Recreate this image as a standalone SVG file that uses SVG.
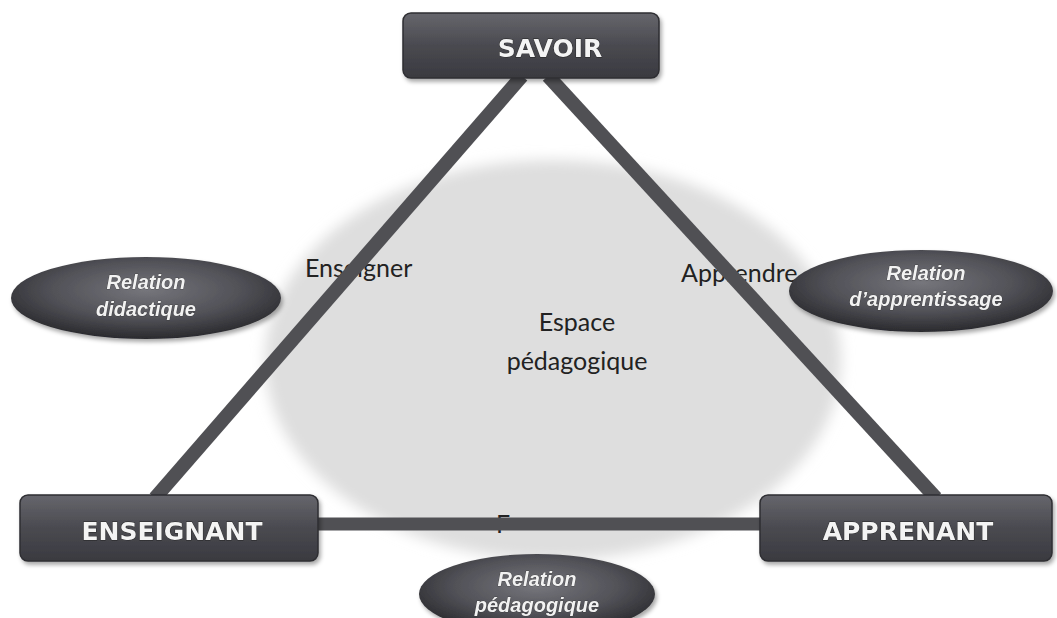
<svg xmlns="http://www.w3.org/2000/svg" width="1057" height="618" viewBox="0 0 1057 618">
<defs>
<style>
.box{fill:url(#boxg);stroke:#2e2e32;stroke-width:1.5}
.btxt{font-family:"DejaVu Sans",sans-serif;font-weight:bold;fill:#f4f4f4;stroke:#222;stroke-width:0.8;paint-order:stroke;text-anchor:middle}
.ell{fill:url(#ellg)}
.etxt{font-family:"Liberation Sans",Arial,sans-serif;font-weight:bold;font-style:italic;font-size:20px;fill:#f2f2f2;stroke:#333;stroke-width:0.6;paint-order:stroke;text-anchor:middle}
.ltxt{font-family:"Lato","DejaVu Sans",sans-serif;fill:#222;font-size:25px}
.edge{stroke:#505054;stroke-linecap:butt;fill:none}
</style>
<linearGradient id="boxg" x1="0" y1="0" x2="0" y2="1">
<stop offset="0" stop-color="#66666c"/>
<stop offset="0.5" stop-color="#4a4a50"/>
<stop offset="1" stop-color="#3a3a40"/>
</linearGradient>
<radialGradient id="ellg" cx="0.5" cy="0.4" r="0.6">
<stop offset="0" stop-color="#76767c"/>
<stop offset="0.6" stop-color="#505056"/>
<stop offset="1" stop-color="#2a2a2e"/>
</radialGradient>
<filter id="soft" x="-20%" y="-20%" width="140%" height="140%">
<feGaussianBlur stdDeviation="7"/>
</filter>
<filter id="shadow" x="-10%" y="-20%" width="130%" height="160%">
<feDropShadow dx="2" dy="3" stdDeviation="2" flood-color="#000" flood-opacity="0.35"/>
</filter>
</defs>
<rect width="1057" height="618" fill="#ffffff"/>

<g id="espace">
<ellipse cx="553" cy="360" rx="288" ry="200" fill="#dedede" filter="url(#soft)"/>
<text class="ltxt" x="577" y="331" text-anchor="middle">Espace</text>
<text class="ltxt" x="577" y="370" text-anchor="middle">pédagogique</text>
</g>

<g id="labels">
<text class="ltxt" x="305" y="277" font-size="22">Enseigner</text>
<text class="ltxt" x="681" y="282" font-size="22">Apprendre</text>
<text class="ltxt" x="496" y="533" font-size="23">F</text>
</g>

<g id="connectors">
<line class="edge" x1="522" y1="76" x2="155" y2="498" stroke-width="14"/>
<line class="edge" x1="548" y1="76" x2="936" y2="498" stroke-width="14"/>
<line class="edge" x1="316" y1="524" x2="762" y2="524" stroke-width="13"/>
</g>

<g id="savoir" filter="url(#shadow)">
<rect class="box" x="403" y="13" width="256" height="65" rx="8"/>
<text class="btxt" x="550" y="57" font-size="25">SAVOIR</text>
</g>
<g id="enseignant" filter="url(#shadow)">
<rect class="box" x="20" y="495" width="298" height="66" rx="8"/>
<text class="btxt" x="172" y="540" font-size="25">ENSEIGNANT</text>
</g>
<g id="apprenant" filter="url(#shadow)">
<rect class="box" x="760" y="495" width="292" height="66" rx="8"/>
<text class="btxt" x="908" y="540" font-size="25">APPRENANT</text>
</g>

<g id="rel-didactique" filter="url(#shadow)">
<ellipse class="ell" cx="146" cy="298" rx="135" ry="41"/>
<text class="etxt" x="146" y="289">Relation</text>
<text class="etxt" x="146" y="316">didactique</text>
</g>
<g id="rel-apprentissage" filter="url(#shadow)">
<ellipse class="ell" cx="921" cy="291" rx="132" ry="41"/>
<text class="etxt" x="926" y="280">Relation</text>
<text class="etxt" x="926" y="306">d’apprentissage</text>
</g>
<g id="rel-pedagogique" filter="url(#shadow)">
<ellipse class="ell" cx="537" cy="594" rx="118" ry="40"/>
<text class="etxt" x="537" y="586">Relation</text>
<text class="etxt" x="537" y="612">pédagogique</text>
</g>
</svg>
